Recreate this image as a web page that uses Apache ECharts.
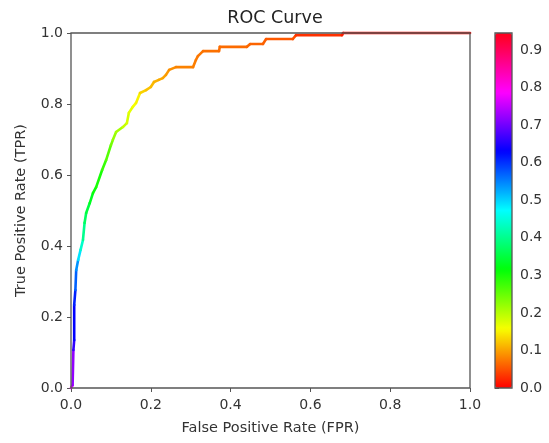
<!DOCTYPE html>
<html>
<head>
    <meta charset="utf-8">
</head>
<body style="margin: 0; background: #fff">
<div id="container" style="width: 549px; height: 443px"></div>
<script type="text/javascript" src="https://cdn.jsdelivr.net/npm/echarts@6/dist/echarts.min.js"></script>
<script type="text/javascript">
// ROC curve vertices
var fpr = [0, 0.004, 0.006, 0.008, 0.008, 0.011, 0.013, 0.018, 0.024, 0.030, 0.034, 0.038, 0.047, 0.055,
    0.063, 0.078, 0.088, 0.100, 0.105, 0.113, 0.130, 0.140, 0.145, 0.155, 0.163, 0.173, 0.188, 0.200,
    0.208, 0.220, 0.230, 0.238, 0.246, 0.263, 0.306, 0.313, 0.318, 0.331, 0.371, 0.373, 0.441, 0.449,
    0.481, 0.489, 0.556, 0.564, 0.679, 0.682, 1.0];
var tpr = [0, 0.008, 0.107, 0.135, 0.234, 0.276, 0.332, 0.361, 0.389, 0.417, 0.465, 0.493, 0.521, 0.549,
    0.566, 0.614, 0.642, 0.684, 0.699, 0.721, 0.735, 0.746, 0.775, 0.792, 0.803, 0.831, 0.839, 0.848,
    0.862, 0.868, 0.873, 0.882, 0.896, 0.904, 0.904, 0.924, 0.935, 0.949, 0.949, 0.961, 0.961, 0.969,
    0.969, 0.983, 0.983, 0.994, 0.994, 1.0, 1.0];
// threshold at each vertex (estimated from the colour)
var thresholds = [0.78, 0.72, 0.66, 0.63, 0.61, 0.57, 0.54, 0.49, 0.44, 0.40, 0.37, 0.35, 0.33, 0.31,
    0.30, 0.28, 0.26, 0.24, 0.22, 0.21, 0.19, 0.18, 0.17, 0.16, 0.15, 0.13, 0.12, 0.115,
    0.11, 0.105, 0.10, 0.095, 0.088, 0.08, 0.078, 0.075, 0.073, 0.07, 0.068, 0.066, 0.064, 0.062,
    0.06, 0.055, 0.05, 0.03, 0.018, 0.005, 0.005];
var thresholdMax = 0.945;
var colorTicks = [0, 0.1, 0.2, 0.3, 0.4, 0.5, 0.6, 0.7, 0.8, 0.9];
var hsvColors = ['#ff0000', '#f8ff00', '#00ff08', '#00ffff', '#0000ff', '#ff00ff', '#ff0018'];

var segments = [];
for (var i = 0; i < fpr.length - 1; i++) {
    segments.push([fpr[i], tpr[i], thresholds[i], fpr[i + 1], tpr[i + 1]]);
}

var dom = document.getElementById('container');
var myChart = echarts.init(dom);
var textColor = '#333';
var spineColor = '#555';

var option = {
    backgroundColor: '#fff',
    animation: false,
    textStyle: {fontFamily: 'DejaVu Sans'},
    title: {
        text: 'ROC Curve',
        left: 270,
        textAlign: 'center',
        top: 4,
        textStyle: {fontSize: 17.5, fontWeight: 'normal', color: '#222'}
    },
    grid: [
        {left: 71, top: 33, width: 399, height: 355, show: true, borderColor: spineColor, borderWidth: 1.3, z: 5, backgroundColor: 'transparent'},
        {left: 495, top: 33, width: 17, height: 355, show: true, borderColor: spineColor, borderWidth: 1.3, z: 5, backgroundColor: 'transparent'}
    ],
    xAxis: [{
        type: 'value', gridIndex: 0, min: 0, max: 1, interval: 0.2,
        splitLine: {show: false},
        axisLine: {show: false},
        axisTick: {show: true, length: 4, lineStyle: {color: spineColor}},
        axisLabel: {fontSize: 14, color: textColor, margin: 10, formatter: function (v) { return v.toFixed(1); }},
        name: 'False Positive Rate (FPR)',
        nameLocation: 'middle',
        nameGap: 33,
        nameTextStyle: {fontSize: 14.5, color: textColor}
    }, {
        type: 'value', gridIndex: 1, min: 0, max: 1, show: false
    }],
    yAxis: [{
        type: 'value', gridIndex: 0, min: 0, max: 1, interval: 0.2,
        splitLine: {show: false},
        axisLine: {show: false},
        axisTick: {show: true, length: 4, lineStyle: {color: spineColor}},
        axisLabel: {fontSize: 14, color: textColor, margin: 8, formatter: function (v) { return v.toFixed(1); }},
        name: 'True Positive Rate (TPR)',
        nameLocation: 'middle',
        nameGap: 42,
        nameTextStyle: {fontSize: 14.5, color: textColor}
    }, {
        type: 'value', gridIndex: 1, min: 0, max: thresholdMax, position: 'right',
        splitLine: {show: false},
        axisLine: {show: false},
        axisTick: {show: true, length: 4, customValues: colorTicks, lineStyle: {color: spineColor}},
        axisLabel: {fontSize: 14, color: textColor, margin: 8, customValues: colorTicks,
            formatter: function (v) { return v.toFixed(1); }}
    }],
    visualMap: {
        type: 'continuous',
        min: 0,
        max: thresholdMax,
        dimension: 2,
        seriesIndex: 0,
        calculable: false,
        hoverLink: false,
        left: 495,
        top: 33,
        padding: 0,
        itemWidth: 17,
        itemHeight: 355,
        inRange: {color: hsvColors}
    },
    series: [{
        type: 'custom',
        xAxisIndex: 0,
        yAxisIndex: 0,
        encode: {x: [0, 3], y: [1, 4]},
        data: segments,
        renderItem: function (params, api) {
            var p0 = api.coord([api.value(0), api.value(1)]);
            var p1 = api.coord([api.value(3), api.value(4)]);
            return {
                type: 'line',
                shape: {x1: p0[0], y1: p0[1], x2: p1[0], y2: p1[1]},
                style: {stroke: api.visual('color'), lineWidth: 2.6, lineCap: 'round'}
            };
        }
    }]
};

myChart.setOption(option);
</script>
</body>
</html>
